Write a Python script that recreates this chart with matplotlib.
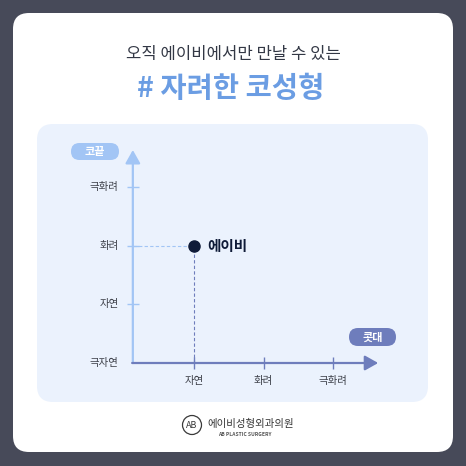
import matplotlib
matplotlib.use("Agg")
import matplotlib.pyplot as plt
from matplotlib.patches import FancyBboxPatch, Circle

plt.rcParams['font.family'] = ['Noto Sans CJK KR', 'DejaVu Sans']

# Chart data
xCategories = ['자연', '화려', '극화려']
yCategories = ['극자연', '자연', '화려', '극화려']
pointNames = ['에이비']
pointX = ['자연']
pointY = ['화려']

xAxisName = '콧대'
yAxisName = '코끝'
titleTop = '오직 에이비에서만 만날 수 있는'
titleMain = '# 자려한 코성형'

# Colours
darkBg = '#474a59'
panelColor = '#ebf2fd'
yAxisColor = '#a2c5f5'
xAxisColor = '#6e7dbc'
pointColor = '#0f1b38'
titleBlue = '#6b9de3'
labelGray = '#3c3f48'

fig = plt.figure(figsize=(4.66, 4.66), dpi=100, facecolor=darkBg)

# Background layer in pixel units
bg = fig.add_axes([0, 0, 1, 1])
bg.set_xlim(0, 466)
bg.set_ylim(466, 0)
bg.axis('off')

bg.add_patch(FancyBboxPatch((13, 13), 440, 439, boxstyle="round,pad=0,rounding_size=16",
                            facecolor='white', edgecolor='none'))
bg.add_patch(FancyBboxPatch((37, 124), 391, 278, boxstyle="round,pad=0,rounding_size=16",
                            facecolor=panelColor, edgecolor='none'))

bg.text(233, 55, titleTop, ha='center', va='center', fontsize=12, color='#333845')
bg.text(231, 89, titleMain, ha='center', va='center', fontsize=20.5, fontweight='bold', color=titleBlue)

# Axis name pills
bg.add_patch(FancyBboxPatch((71, 143), 48, 17, boxstyle="round,pad=0,rounding_size=8.5",
                            facecolor=yAxisColor, edgecolor='none'))
bg.text(95, 151, yAxisName, ha='center', va='center', fontsize=8, fontweight='bold', color='white')
bg.add_patch(FancyBboxPatch((349, 328), 47, 18, boxstyle="round,pad=0,rounding_size=9",
                            facecolor=xAxisColor, edgecolor='none'))
bg.text(372.5, 337, xAxisName, ha='center', va='center', fontsize=8, fontweight='bold', color='white')

# Footer logo
bg.add_patch(Circle((192, 425), 9.5, facecolor='none', edgecolor='#3a3a3a', lw=0.9))
bg.text(192, 425.5, 'AB', ha='center', va='center', fontsize=6.5, color='#3a3a3a')
bg.text(207, 423.5, '에이비성형외과의원', ha='left', va='center', fontsize=7.5, color='#333333')
bg.text(245, 434.5, 'AB PLASTIC SURGERY', ha='center', va='center', fontsize=3.6,
        fontweight='bold', color='#555555')

# Chart layer in category units
ax = fig.add_axes([0, 0, 1, 1])
ax.patch.set_alpha(0)
ax.axis('off')
xScale, xZero = 69.5, 124.5
yScale, yZero = 58.67, 103
ax.set_xlim(-xZero / xScale, (466 - xZero) / xScale)
ax.set_ylim(-yZero / yScale, (466 - yZero) / yScale)

xPos = {name: i + 1 for i, name in enumerate(xCategories)}
yPos = {name: i for i, name in enumerate(yCategories)}

xOrigin = 0.12
yOrigin = 0
xTip = 3.65
yTip = 3.63

# Axes with arrows
ax.annotate('', xy=(xOrigin, yTip), xytext=(xOrigin, yOrigin),
            arrowprops=dict(arrowstyle='-|>,head_length=0.8,head_width=0.45', color=yAxisColor,
                            lw=1.6, shrinkA=0, shrinkB=0, mutation_scale=10))
ax.annotate('', xy=(xTip, yOrigin), xytext=(xOrigin - 0.01, yOrigin),
            arrowprops=dict(arrowstyle='-|>,head_length=0.8,head_width=0.45', color=xAxisColor,
                            lw=1.6, shrinkA=0, shrinkB=0, mutation_scale=10))

# Y ticks and labels
for name in yCategories:
    y = yPos[name]
    if y > 0:
        ax.plot([xOrigin], [y], marker='_', markersize=9, markeredgewidth=1, color=yAxisColor)
    ax.annotate(name, (xOrigin, y), xytext=(-14, 0), textcoords='offset pixels',
                ha='right', va='center', fontsize=7.5, color=labelGray)

# X ticks and labels
for name in xCategories:
    x = xPos[name]
    ax.plot([x], [yOrigin], marker='|', markersize=9, markeredgewidth=1, color=xAxisColor)
    ax.annotate(name, (x, yOrigin), xytext=(0, -18), textcoords='offset pixels',
                ha='center', va='center', fontsize=7.5, color=labelGray)

# Point with guide lines
for name, xc, yc in zip(pointNames, pointX, pointY):
    px, py = xPos[xc], yPos[yc]
    ax.plot([xOrigin, px], [py, py], linestyle=(0, (3, 2)), lw=0.8, color=yAxisColor)
    ax.plot([px, px], [yOrigin, py], linestyle=(0, (3, 2)), lw=0.8, color=xAxisColor)
    ax.plot([px], [py], marker='o', markersize=8, color=pointColor, zorder=5)
    ax.annotate(name, (px, py), xytext=(13, 0), textcoords='offset pixels',
                ha='left', va='center', fontsize=10.5, fontweight='bold', color=pointColor)

fig.savefig('out.png', dpi=100, facecolor=darkBg)
